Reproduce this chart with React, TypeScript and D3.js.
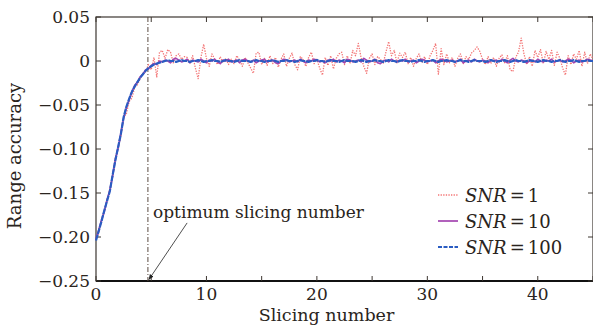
import * as d3 from 'd3';

// slicing numbers are sampled every 0.25 from 0 to 45
const slicing = d3.range(0, 45.001, 0.25);

const snr1 = [
  -0.203, -0.195, -0.180, -0.171, -0.158, -0.146, -0.131, -0.110, -0.099, -0.086, -0.064, -0.060,
  -0.046, -0.042, -0.030, -0.027, -0.020, -0.014, -0.012, -0.004, -0.010, 0.004, -0.018, 0.010, 0.012,
  0.003, 0.013, 0.010, -0.002, 0.006, 0.008, 0.002, 0.005,
  0.004, -0.003, 0.006, -0.008, -0.020, 0.004, 0.019, 0.003,
  -0.006, 0.008, 0.002, -0.004, 0.005, -0.002, 0.003, -0.004,
  0.002, -0.003, 0.006, 0.001, -0.006, 0.004, -0.002, -0.008,
  -0.014, 0.009, 0.010, -0.004, 0.003, -0.005, 0.006, -0.003,
  0.004, -0.007, 0.002, 0.008, -0.006, 0.003, 0.009, -0.004,
  -0.010, 0.005, 0.002, -0.006, 0.004, 0.010, -0.003, 0.002,
  -0.008, -0.016, 0.004, -0.005, 0.006, -0.009, 0.003, 0.008,
  0.010, -0.004, 0.006, -0.003, 0.012, 0.006, 0.020, 0.004,
  -0.006, -0.014, 0.003, 0.008, -0.004, 0.005, 0.002, -0.003,
  0.010, 0.022, 0.006, 0.012, -0.002, 0.009, 0.004, 0.010,
  -0.003, 0.004, -0.006, 0.003, 0.008, -0.002, 0.005, -0.004,
  0.006, 0.012, 0.020, -0.015, 0.014, -0.004, 0.008, -0.002,
  0.004, -0.006, 0.003, 0.008, -0.003, 0.005, 0.002, 0.009,
  0.012, 0.016, 0.011, 0.002, -0.004, 0.005, -0.003, 0.004,
  -0.006, 0.003, 0.007, -0.002, 0.006, -0.010, -0.012, 0.004,
  0.010, 0.026, 0.008, -0.004, 0.005, -0.006, 0.012, 0.004,
  0.013, -0.003, 0.011, 0.002, 0.012, -0.005, 0.010, 0.003,
  -0.008, -0.016, 0.006, -0.004, 0.008, 0.002, 0.012, -0.006,
  0.010, -0.003, 0.008, 0.002,
];

const snr10 = [
  -0.202, -0.192, -0.181, -0.171, -0.158, -0.147, -0.131, -0.112, -0.099, -0.082, -0.065, -0.053,
  -0.044, -0.035, -0.028, -0.024, -0.018, -0.015, -0.010, -0.009, -0.005, -0.003, -0.004, 0.000, -0.001,
  0.001, 0.000, -0.002, 0.002, 0.003, 0.001, -0.001, 0.000, 0.002, -0.002, 0.001, 0.000,
  -0.001, 0.002, 0.000, -0.002, 0.001, 0.000, 0.002, -0.001, -0.003, 0.001, 0.000, 0.002,
  -0.001, 0.000, 0.001, -0.002, 0.001, 0.002, 0.000, -0.001, 0.001, -0.002, 0.000, 0.001,
  0.002, -0.001, 0.000, 0.001, -0.002, -0.003, 0.000, 0.002, 0.001, -0.001, 0.000, 0.001,
  -0.001, 0.002, 0.000, -0.002, 0.001, 0.000, 0.002, 0.001, -0.001, 0.000, -0.002, 0.001,
  0.000, 0.002, -0.001, 0.001, 0.000, -0.002, 0.002, 0.001, -0.001, 0.000, 0.001, -0.001,
  0.003, 0.001, -0.001, 0.000, 0.002, -0.002, -0.003, 0.000, 0.001, -0.001, 0.002, 0.000,
  -0.001, 0.001, 0.000, 0.002, -0.001, 0.000, 0.001, -0.002, 0.000, 0.002, 0.001, -0.001,
  0.000, 0.001, -0.002, 0.000, 0.002, 0.001, -0.001, 0.000, 0.001, -0.001, 0.000, 0.002,
  -0.002, 0.000, 0.001, -0.001, 0.002, 0.000, -0.001, 0.001, 0.000, -0.002, 0.001, 0.000,
  0.001, -0.001, 0.002, 0.000, -0.002, 0.001, 0.003, 0.000, -0.001, 0.001, 0.000, -0.002,
  0.000, 0.001, -0.001, 0.002, 0.000, -0.001, 0.001, 0.000, 0.002, -0.001, 0.000, 0.001,
  -0.001, 0.000, 0.002, 0.001, -0.002, 0.000, 0.001, -0.001, 0.000, 0.002, 0.001, 0.000,
];

const snr100 = [
  -0.204, -0.193, -0.182, -0.170, -0.159, -0.148, -0.130, -0.113, -0.098, -0.083, -0.064, -0.052,
  -0.043, -0.035, -0.029, -0.024, -0.019, -0.015, -0.011, -0.008, -0.006, -0.004, -0.003, -0.002, -0.001,
  0.000, 0.001, 0.000, 0.000, -0.001, 0.000, 0.001, 0.000, 0.000, -0.001, 0.000, 0.000,
  0.001, 0.000, -0.001, 0.000, 0.000, 0.001, 0.000, 0.000, -0.001, 0.000, 0.001, 0.000,
  0.000, -0.001, 0.000, 0.001, 0.000, 0.000, 0.000, -0.001, 0.000, 0.001, 0.000, 0.000,
  -0.001, 0.000, 0.000, 0.001, 0.000, -0.001, 0.000, 0.000, 0.001, 0.000, 0.000, -0.001,
  0.000, 0.001, 0.000, 0.000, -0.001, 0.000, 0.000, 0.001, 0.000, 0.000, -0.001, 0.000,
  0.001, 0.000, 0.000, -0.001, 0.000, 0.001, 0.000, 0.000, 0.000, -0.001, 0.000, 0.001,
  0.000, -0.001, 0.000, 0.000, 0.001, 0.000, 0.000, -0.001, 0.000, 0.001, 0.000, 0.000,
  -0.001, 0.000, 0.001, 0.000, 0.000, -0.001, 0.000, 0.000, 0.001, 0.000, -0.001, 0.000,
  0.000, 0.001, 0.000, -0.001, 0.000, 0.000, 0.001, 0.000, 0.000, -0.001, 0.000, 0.001,
  0.000, 0.000, -0.001, 0.000, 0.001, 0.000, 0.000, 0.000, -0.001, 0.000, 0.001, 0.000,
  -0.001, 0.000, 0.000, 0.001, 0.000, -0.001, 0.000, 0.001, 0.000, 0.000, -0.001, 0.000,
  0.001, 0.000, 0.000, -0.001, 0.000, 0.001, 0.000, 0.000, -0.001, 0.000, 0.000, 0.001,
  0.000, -0.001, 0.000, 0.000, 0.001, 0.000, -0.001, 0.000, 0.000, 0.001, 0.000, 0.000,
];

const legendLabels = ['1', '10', '100'];
const xTickLabels = [0, 10, 20, 30, 40];
const xMinorTicks = [0, 5, 10, 15, 20, 25, 30, 35, 40, 45];
const yTicks = [0.05, 0, -0.05, -0.1, -0.15, -0.2, -0.25];
const yTickLabels = ['0.05', '0', '\u22120.05', '\u22120.10', '\u22120.15', '\u22120.20', '\u22120.25'];
const optimum = 4.7;

const W = 593;
const H = 331;
const left = 96, right = 593, top = 17, bottom = 281;
const font = '"DejaVu Serif", "Liberation Serif", serif';
const ink = '#2a2420';

const App = () => {
  const x = d3.scaleLinear().domain([0, 45]).range([left, right]);
  const y = d3.scaleLinear().domain([-0.25, 0.05]).range([bottom, top]);

  const line = (vals: number[]) =>
    d3.line<number>()
      .x((_, i) => x(slicing[i]))
      .y((d) => y(d))(vals) || '';

  const series = [
    { vals: snr1, color: '#f37474', width: 1.3, dash: '1.3,1.3' },
    { vals: snr10, color: '#a345b0', width: 1.7, dash: null },
    { vals: snr100, color: '#2a5cc2', width: 2.2, dash: '6,0.8' },
  ];

  const tickLen = 5;
  const frame = '#3d3631';

  return (
    <svg width={W} height={H} style={{ position: 'absolute', left: 0, top: 0, background: '#fff', fontFamily: font }}>
      <defs>
        <marker id="arr" viewBox="0 0 10 10" refX="9" refY="5" markerWidth="7" markerHeight="7" orient="auto">
          <path d="M0,1 L10,5 L0,9 z" fill="#222" />
        </marker>
      </defs>

      {/* frame */}
      <rect x={left} y={top} width={right - left} height={bottom - top} fill="none" stroke={frame} strokeWidth={1.2} />
      <line x1={left} x2={right} y1={bottom} y2={bottom} stroke="#111" strokeWidth={1.8} />

      {/* ticks */}
      {xMinorTicks.map((t) => (
        <g key={'xt' + t}>
          <line x1={x(t)} x2={x(t)} y1={bottom} y2={bottom - tickLen} stroke={frame} />
          <line x1={x(t)} x2={x(t)} y1={top} y2={top + tickLen} stroke={frame} />
        </g>
      ))}
      {yTicks.map((t) => (
        <g key={'yt' + t}>
          <line x1={left} x2={left + tickLen} y1={y(t)} y2={y(t)} stroke={frame} />
          <line x1={right - tickLen} x2={right} y1={y(t)} y2={y(t)} stroke={frame} />
        </g>
      ))}

      {/* tick labels */}
      {xTickLabels.map((t) => (
        <text key={'xl' + t} x={x(t)} y={300} textAnchor="middle" fontSize={17} fill={ink}>{t}</text>
      ))}
      {yTicks.map((t, i) => (
        <text key={'yl' + t} x={90} y={y(t)} dy="0.36em" textAnchor="end" fontSize={17} fill={ink}>{yTickLabels[i]}</text>
      ))}

      {/* axis titles */}
      <text x={326.5} y={321} textAnchor="middle" fontSize={17.5} fill={ink}>Slicing number</text>
      <text transform="translate(21,156) rotate(-90)" textAnchor="middle" fontSize={18} fill={ink}>Range accuracy</text>

      {/* optimum line */}
      <line x1={x(optimum)} x2={x(optimum)} y1={top} y2={bottom} stroke="#5a4a40" strokeWidth={1} strokeDasharray="5,2,1,2" />

      {/* series */}
      {series.map((s, i) => (
        <path key={'s' + i} d={line(s.vals)} fill="none" stroke={s.color} strokeWidth={s.width}
          strokeDasharray={s.dash || undefined} strokeLinejoin="round" />
      ))}

      {/* annotation */}
      <text x={153} y={218} fontSize={17} fill={ink}>optimum slicing number</text>
      <line x1={x(8.25)} y1={y(-0.184)} x2={x(optimum) + 1} y2={y(-0.25) - 1.5} stroke="#222" strokeWidth={0.8} markerEnd="url(#arr)" />

      {/* legend */}
      {series.map((s, i) => {
        const ly = 195 + i * 26;
        return (
          <g key={'lg' + i}>
            <line x1={438} x2={458} y1={ly} y2={ly} stroke={s.color} strokeWidth={s.width}
              strokeDasharray={s.dash === '6,0.8' ? '4,1.5' : s.dash || undefined} />
            <text x={465} y={ly + 7} fontSize={18} fill={ink}>
              <tspan fontStyle="italic">SNR</tspan>
              <tspan dx={3}>=</tspan>
              <tspan dx={3}>{legendLabels[i]}</tspan>
            </text>
          </g>
        );
      })}
    </svg>
  );
};

export default App;
